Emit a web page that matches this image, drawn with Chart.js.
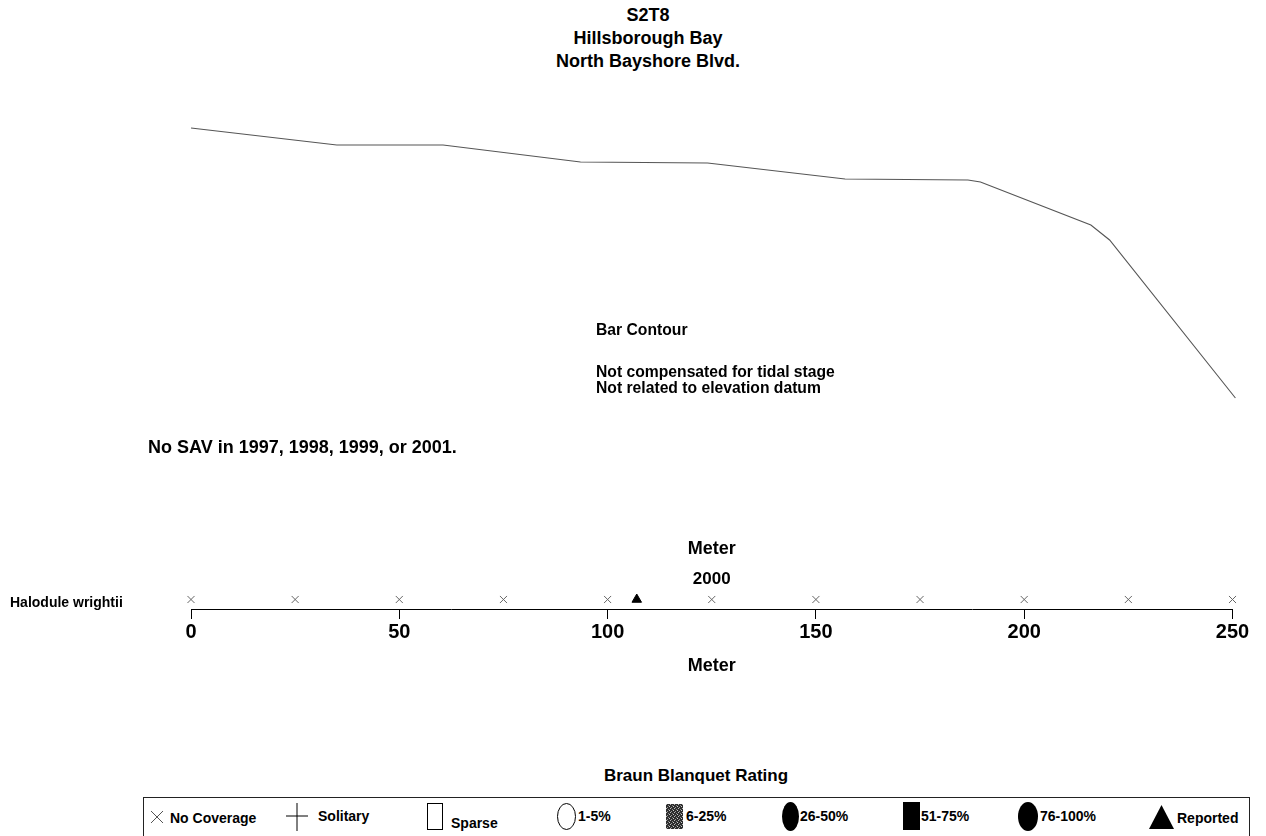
<!DOCTYPE html>
<html>
<head>
<meta charset="utf-8">
<title>S2T8 Hillsborough Bay</title>
<script src="https://cdn.jsdelivr.net/npm/chart.js@4.4.1/dist/chart.umd.min.js"></script>
<style>
  html, body { margin: 0; padding: 0; background: #fff; }
  body { width: 1266px; height: 836px; position: relative; overflow: hidden;
         font-family: "Liberation Sans", Arial, sans-serif; color: #000; }
  .t { position: absolute; white-space: nowrap; }
  canvas { position: absolute; left: 0; }
  #profile { top: 0; }
  #sav { top: 520px; }
  .title { left: 448px; top: 4px; width: 400px; text-align: center; font-weight: bold; font-size: 18px; line-height: 23px; }
  .note { font-weight: bold; font-size: 15.7px; line-height: 16px; }
  .lg { font-weight: bold; font-size: 14px; line-height: 16px; }
  #legendBox { position: absolute; left: 143px; top: 797px; width: 1107px; height: 40px; border: 1px solid #222; box-sizing: border-box; }
  svg.sym { position: absolute; overflow: visible; }
</style>
</head>
<body>
<div class="t title">S2T8<br>Hillsborough Bay<br>North Bayshore Blvd.</div>

<canvas id="profile" width="1266" height="440"></canvas>

<div class="t note" style="left:596px;top:322px;">Bar Contour</div>
<div class="t note" style="left:596px;top:364px;">Not compensated for tidal stage</div>
<div class="t note" style="left:596px;top:380px;">Not related to elevation datum</div>

<div class="t" style="left:148px;top:437px;font-weight:bold;font-size:18px;line-height:21px;">No SAV in 1997, 1998, 1999, or 2001.</div>

<canvas id="sav" width="1266" height="200"></canvas>
<div class="t" style="left:10px;top:594px;font-weight:bold;font-size:14px;line-height:17px;">Halodule wrightii</div>

<div class="t" style="left:546px;top:766px;width:300px;text-align:center;font-weight:bold;font-size:17px;line-height:20px;">Braun Blanquet Rating</div>
<div id="legendBox"></div>

<!-- Braun Blanquet legend symbols -->
<svg class="sym" style="left:150px;top:810px" width="14" height="14"><path d="M1 1L13 13M13 1L1 13" stroke="#555" stroke-width="1"/></svg>
<div class="t lg" style="left:170px;top:810px;">No Coverage</div>

<svg class="sym" style="left:286px;top:803px" width="22" height="28"><path d="M0 13H22M11 0V28" stroke="#000" stroke-width="1"/></svg>
<div class="t lg" style="left:318px;top:808px;">Solitary</div>

<svg class="sym" style="left:427px;top:803px" width="16" height="27"><rect x="0.5" y="0.5" width="15" height="26" fill="#fff" stroke="#000" stroke-width="1"/></svg>
<div class="t lg" style="left:451px;top:815px;">Sparse</div>

<svg class="sym" style="left:557px;top:803px" width="19" height="27"><ellipse cx="9.5" cy="13.5" rx="9" ry="13" fill="#fff" stroke="#000" stroke-width="1"/></svg>
<div class="t lg" style="left:578px;top:808px;">1-5%</div>

<svg class="sym" style="left:666px;top:804px" width="17" height="25">
  <defs>
    <pattern id="grain" width="4" height="4" patternUnits="userSpaceOnUse">
      <rect width="4" height="4" fill="#2e2e2e"/>
      <rect x="0" y="0" width="1" height="1" fill="#bbb"/>
      <rect x="2" y="1" width="1" height="1" fill="#888"/>
      <rect x="1" y="3" width="1" height="1" fill="#999"/>
      <rect x="3" y="2" width="1" height="1" fill="#ccc"/>
    </pattern>
  </defs>
  <rect width="17" height="25" fill="url(#grain)"/>
</svg>
<div class="t lg" style="left:686px;top:808px;">6-25%</div>

<svg class="sym" style="left:782px;top:802px" width="17" height="29"><ellipse cx="8.5" cy="14.5" rx="8.5" ry="14.5" fill="#000"/></svg>
<div class="t lg" style="left:800px;top:808px;">26-50%</div>

<svg class="sym" style="left:903px;top:802px" width="17" height="28"><rect width="17" height="28" fill="#000"/></svg>
<div class="t lg" style="left:921px;top:808px;">51-75%</div>

<svg class="sym" style="left:1018px;top:802px" width="20" height="29"><ellipse cx="10" cy="14.5" rx="10" ry="14.5" fill="#000"/></svg>
<div class="t lg" style="left:1040px;top:808px;">76-100%</div>

<svg class="sym" style="left:1149px;top:805px" width="25" height="24"><path d="M12.5 0L25 24H0Z" fill="#000"/></svg>
<div class="t lg" style="left:1177px;top:810px;">Reported</div>

<script>
// Bar contour profile along the transect (distance in metres, relative bottom level)
const contourDistance = [0, 35, 60.5, 93.5, 124, 157, 186.5, 189.5, 216, 220.5, 250.7];
const contourLevel    = [-0.10, -0.27, -0.27, -0.44, -0.45, -0.61, -0.62, -0.64, -1.07, -1.22, -2.80];

// 2000 survey of Halodule wrightii: stations with no coverage, and reported occurrences
const noCoverageStations = [0, 25, 50, 75, 100, 125, 150, 175, 200, 225, 250];
const reportedStations   = [107];

// Metre axis tick labels
const meterTicks = [0, 50, 100, 150, 200, 250];

const FONT = '"Liberation Sans", Arial, sans-serif';
Chart.defaults.font.family = FONT;
Chart.defaults.color = '#000';

new Chart(document.getElementById('profile'), {
  type: 'line',
  data: {
    datasets: [{
      label: 'Bar Contour',
      data: contourDistance.map((x, i) => ({ x, y: contourLevel[i] })),
      borderColor: '#555',
      borderWidth: 1.1,
      pointRadius: 0,
      tension: 0,
      clip: false
    }]
  },
  options: {
    responsive: false,
    animation: false,
    devicePixelRatio: 1,
    events: [],
    layout: { padding: { left: 191, right: 33.5, top: 118, bottom: 22 } },
    plugins: { legend: { display: false }, tooltip: { enabled: false } },
    scales: {
      x: { type: 'linear', min: 0, max: 250, display: false },
      y: { type: 'linear', min: -3, max: 0, display: false }
    }
  }
});

new Chart(document.getElementById('sav'), {
  type: 'scatter',
  data: {
    datasets: [
      {
        label: 'No Coverage',
        data: noCoverageStations.map(x => ({ x, y: 0.5 })),
        pointStyle: 'crossRot',
        pointRadius: 5,
        borderColor: '#666',
        borderWidth: 1,
        clip: false
      },
      {
        label: 'Reported',
        data: reportedStations.map(x => ({ x, y: 0.5 })),
        pointStyle: 'triangle',
        pointRadius: 5.5,
        backgroundColor: '#000',
        borderColor: '#000',
        borderWidth: 1,
        clip: false
      }
    ]
  },
  options: {
    responsive: false,
    animation: false,
    devicePixelRatio: 1,
    events: [],
    layout: { padding: { left: 191, right: 33.5, top: 0, bottom: 43 } },
    plugins: {
      legend: { display: false },
      tooltip: { enabled: false },
      title: {
        display: true, text: 'Meter', color: '#000',
        font: { size: 18, weight: 'bold' },
        padding: { top: 18, bottom: 0 }
      },
      subtitle: {
        display: true, text: '2000', color: '#000',
        font: { size: 17, weight: 'bold' },
        padding: { top: 9.2, bottom: 0.8 }
      }
    },
    scales: {
      x: {
        type: 'linear', min: 0, max: 250, position: 'bottom',
        afterBuildTicks: s => { s.ticks = meterTicks.map(v => ({ value: v })); },
        afterFit: s => { s.height = 68; s.paddingLeft = 0; s.paddingRight = 0; },
        ticks: { color: '#000', font: { size: 20, weight: 'bold' }, padding: 1, maxRotation: 0, autoSkip: false },
        grid: { display: true, drawOnChartArea: false, drawTicks: true, tickLength: 10, color: '#000', lineWidth: 1 },
        border: { display: true, color: '#000', width: 1 },
        title: { display: true, text: 'Meter', color: '#000', font: { size: 18, weight: 'bold' }, padding: 0 }
      },
      y: { type: 'linear', min: 0, max: 1, display: false }
    }
  }
});
</script>
</body>
</html>
